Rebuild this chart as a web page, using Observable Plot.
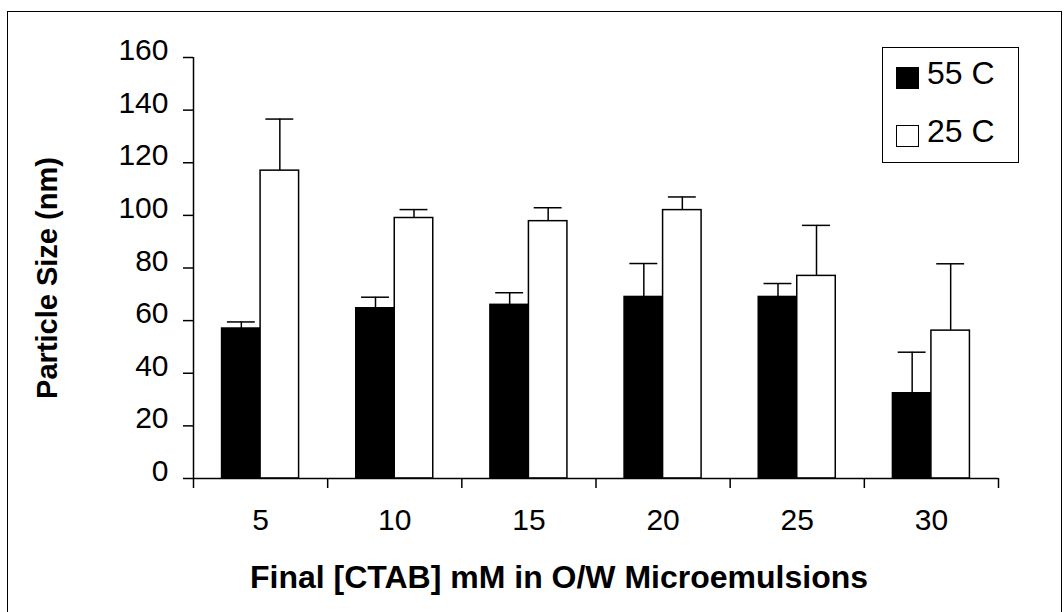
<!DOCTYPE html>
<html>
<head>
<meta charset="utf-8">
<script src="https://cdn.jsdelivr.net/npm/d3@7"></script>
<script src="https://cdn.jsdelivr.net/npm/@observablehq/plot@0.6"></script>
<style>
  html, body { margin: 0; padding: 0; background: #fff; overflow: hidden; }
  #wrap { position: relative; width: 1064px; height: 612px; font-family: "Liberation Sans", Arial, sans-serif; }
  #frame { position: absolute; left: 7px; top: 11px; width: 1055px; height: 620px; border: 1.5px solid #000; box-sizing: border-box; pointer-events: none; }
  #legend { position: absolute; left: 882px; top: 47px; width: 137px; height: 116px; border: 1.5px solid #000; box-sizing: border-box; background: #fff; }
  .item { position: absolute; left: 13px; height: 22px; width: 120px; }
  .sw { position: absolute; left: 0; top: 0; width: 23px; height: 22px; border: 1.5px solid #000; box-sizing: border-box; }
  .lab { position: absolute; left: 31px; top: -24px; font-size: 32px; line-height: 60px; color: #000; white-space: nowrap; }
</style>
</head>
<body>
<div id="wrap">
  <div id="chart"></div>
  <div id="frame"></div>
  <div id="legend"></div>
</div>
<script>
// ---- data ----
const categories = [5, 10, 15, 20, 25, 30];
const seriesNames = ["55 C", "25 C"];
const seriesColors = ["#000000", "#ffffff"];
const size55 = [57, 64.7, 66, 69, 69, 32.4];
const err55  = [2.5, 4.2, 4.6, 12.7, 5.1, 15.6];
const size25 = [117, 99, 97.8, 102, 77, 56.2];
const err25  = [19.6, 3.2, 5.1, 5, 19.2, 25.4];
const yTicks = [0, 20, 40, 60, 80, 100, 120, 140, 160];
const xTitle = "Final [CTAB] mM in O/W Microemulsions";
const yTitle = "Particle Size (nm)";

// ---- build table ----
const step = categories[1] - categories[0];
const barW = step * 0.287;   // width of one bar in x units
const capHalf = step * 0.104;
const rows = [];
categories.forEach((c, i) => {
  rows.push({cat: c, series: seriesNames[0], x1: c - barW, x2: c, mid: c - barW / 2, v: size55[i], e: err55[i]});
  rows.push({cat: c, series: seriesNames[1], x1: c, x2: c + barW, mid: c + barW / 2, v: size25[i], e: err25[i]});
});
const xMin = categories[0] - step / 2;
const xMax = categories[categories.length - 1] + step / 2;
const boundaries = d3.range(xMin, xMax + step / 2, step);

const font = '"Liberation Sans", Arial, sans-serif';

const plot = Plot.plot({
  width: 1064,
  height: 612,
  marginLeft: 193,
  marginRight: 66,
  marginTop: 57,
  marginBottom: 134,
  style: {fontFamily: font, color: "#000", background: "transparent"},
  x: {domain: [xMin, xMax], axis: null},
  y: {domain: [0, 160], axis: null},
  color: {domain: seriesNames, range: seriesColors},
  marks: [
    // error bars (upper only)
    Plot.ruleX(rows, {x: "mid", y1: "v", y2: d => d.v + d.e, stroke: "#000", strokeWidth: 1.5}),
    Plot.ruleY(rows, {y: d => d.v + d.e, x1: d => d.mid - capHalf, x2: d => d.mid + capHalf, stroke: "#000", strokeWidth: 1.5}),
    // bars
    Plot.rectY(rows, {x1: "x1", x2: "x2", y: "v", fill: "series", stroke: "#000", strokeWidth: 1.5}),
    // y axis
    Plot.ruleX([xMin], {y1: 0, y2: 160, stroke: "#000", strokeWidth: 1.5}),
    Plot.axisY({ticks: yTicks, tickSize: 10, tickFormat: () => "", label: null, stroke: "#000", strokeWidth: 1.5}),
    Plot.axisY({ticks: yTicks, tickSize: 0, tickPadding: 25, fontSize: 30, dy: -7, label: null, tickFormat: d => d}),
    // x axis
    Plot.ruleY([0], {stroke: "#000", strokeWidth: 1.5}),
    Plot.axisX({ticks: boundaries, tickSize: 10, tickFormat: () => "", label: null, stroke: "#000", strokeWidth: 1.5}),
    Plot.axisX({ticks: categories, tickSize: 0, tickPadding: 30, fontSize: 30, label: null, tickFormat: d => d}),
    // titles
    Plot.text([xTitle], {frameAnchor: "bottom", lineAnchor: "middle", dx: -37, dy: 99, fontSize: 32, fontWeight: "bold", fill: "#000"}),
    Plot.text([yTitle], {frameAnchor: "left", textAnchor: "middle", lineAnchor: "middle", rotate: -90, dx: -146, dy: 10, fontSize: 29, fontWeight: "bold", fill: "#000"})
  ]
});
document.getElementById("chart").appendChild(plot);

// legend (HTML overlay)
const legend = document.getElementById("legend");
seriesNames.forEach((name, i) => {
  const item = document.createElement("div");
  item.className = "item";
  item.style.top = (i === 0 ? 19 : 77) + "px";
  const sw = document.createElement("div");
  sw.className = "sw";
  sw.style.background = seriesColors[i];
  const label = document.createElement("span");
  label.className = "lab";
  label.textContent = name;
  item.appendChild(sw);
  item.appendChild(label);
  legend.appendChild(item);
});
</script>
</body>
</html>
